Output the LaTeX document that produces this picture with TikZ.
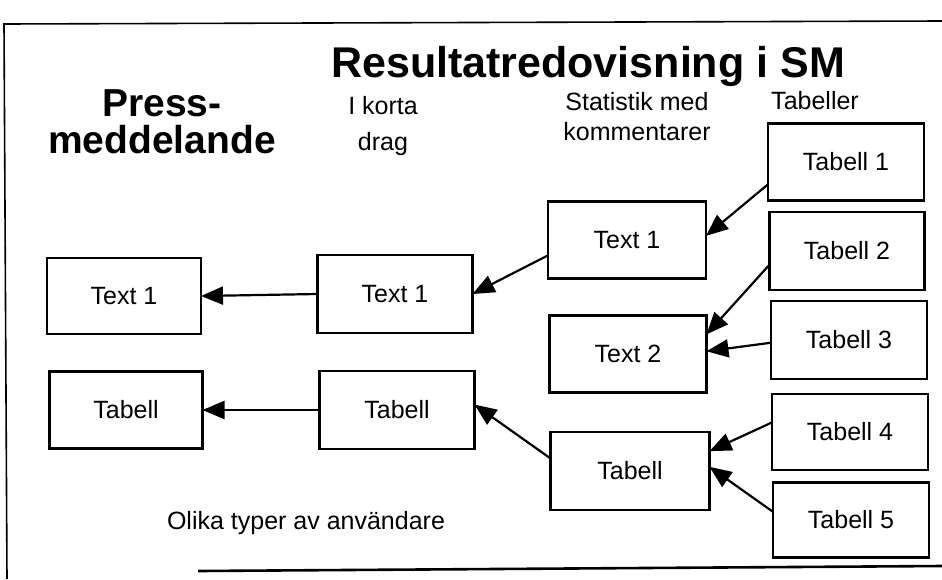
\documentclass[tikz,border=0pt]{standalone}
\usepackage{fontspec}
\setmainfont{Liberation Sans}
\usepackage{tikz}
\usetikzlibrary{arrows.meta, calc}
\tikzset{
		box/.style={
			rectangle,
			draw=black,
			line width=2.2pt,
			align=center,
			minimum width=156pt,
			minimum height=77pt,
			inner sep=0pt,
			outer sep=0pt,
			font=\fontsize{25}{30}\selectfont
		},
		head/.style={
			align=center,
			font=\fontsize{25}{30}\selectfont
		},
		link/.style={
			line width=2.2pt,
			-{Triangle[length=22pt,width=18pt]}
		}
	}
\begin{document}
\begin{tikzpicture}[x=1pt, y=-1pt]
	\useasboundingbox (0,0) rectangle (942,579);
	% ram
	\draw [line width=1.6pt] (942,21) -- (4,24) -- (7,579);
	\draw [line width=2.6pt] (198,571) -- (942,566);
	% rubriker
	\node (title) [font=\fontsize{43}{43}\selectfont\bfseries] at (588,66) {Resultatredovisning i SM};
	\node (press) [align=center, font=\fontsize{39}{37}\selectfont\bfseries] at (162,122) {Press-\\meddelande};
	\node (korta) [head, font=\fontsize{25}{36}\selectfont] at (383,126) {I korta\\drag};
	\node (stat) [head] at (637,117) {Statistik med\\kommentarer};
	\node (tabeller) [head] at (815,101) {Tabeller};
	\node (anv) [head] at (306,523) {Olika typer av användare};
	% rutor
	\node (press-text) [box, minimum width=154pt, minimum height=76pt] at (124,296) {Text 1};
	\node (press-tab) [box, minimum width=153pt] at (126,410) {Tabell};
	\node (korta-text) [box, minimum width=155pt, minimum height=78pt] at (395,294) {Text 1};
	\node (korta-tab) [box, minimum width=155pt, minimum height=78pt] at (397,410) {Tabell};
	\node (stat-text1) [box, minimum width=158pt] at (627,240) {Text 1};
	\node (stat-text2) [box, minimum width=157pt] at (628,354) {Text 2};
	\node (stat-tab) [box, minimum width=159pt, minimum height=78pt] at (630,471) {Tabell};
	\node (tab1) [box] at (846,162) {Tabell 1};
	\node (tab2) [box, minimum width=155pt, minimum height=78pt] at (847,251) {Tabell 2};
	\node (tab3) [box, minimum height=78pt] at (849,340) {Tabell 3};
	\node (tab4) [box, minimum height=76pt] at (850,432) {Tabell 4};
	\node (tab5) [box, minimum height=75pt] at (851,520) {Tabell 5};
	% pilar
	\draw [link] (tab1.196) -- (stat-text1.3);
	\draw [link] (tab2.190) -- (stat-text2.14);
	\draw [link] (tab3.182) -- (stat-text2.2);
	\draw [link] (tab4.173) -- (stat-tab.14);
	\draw [link] (tab5.174) -- (stat-tab.3);
	\draw [link] (stat-text1.191) -- (korta-text.east);
	\draw [link] (stat-tab.171) -- (korta-tab.4);
	\draw [link] (korta-text.west) -- (press-text.east);
	\draw [link] (korta-tab.west) -- (press-tab.east);
\end{tikzpicture}
\end{document}
